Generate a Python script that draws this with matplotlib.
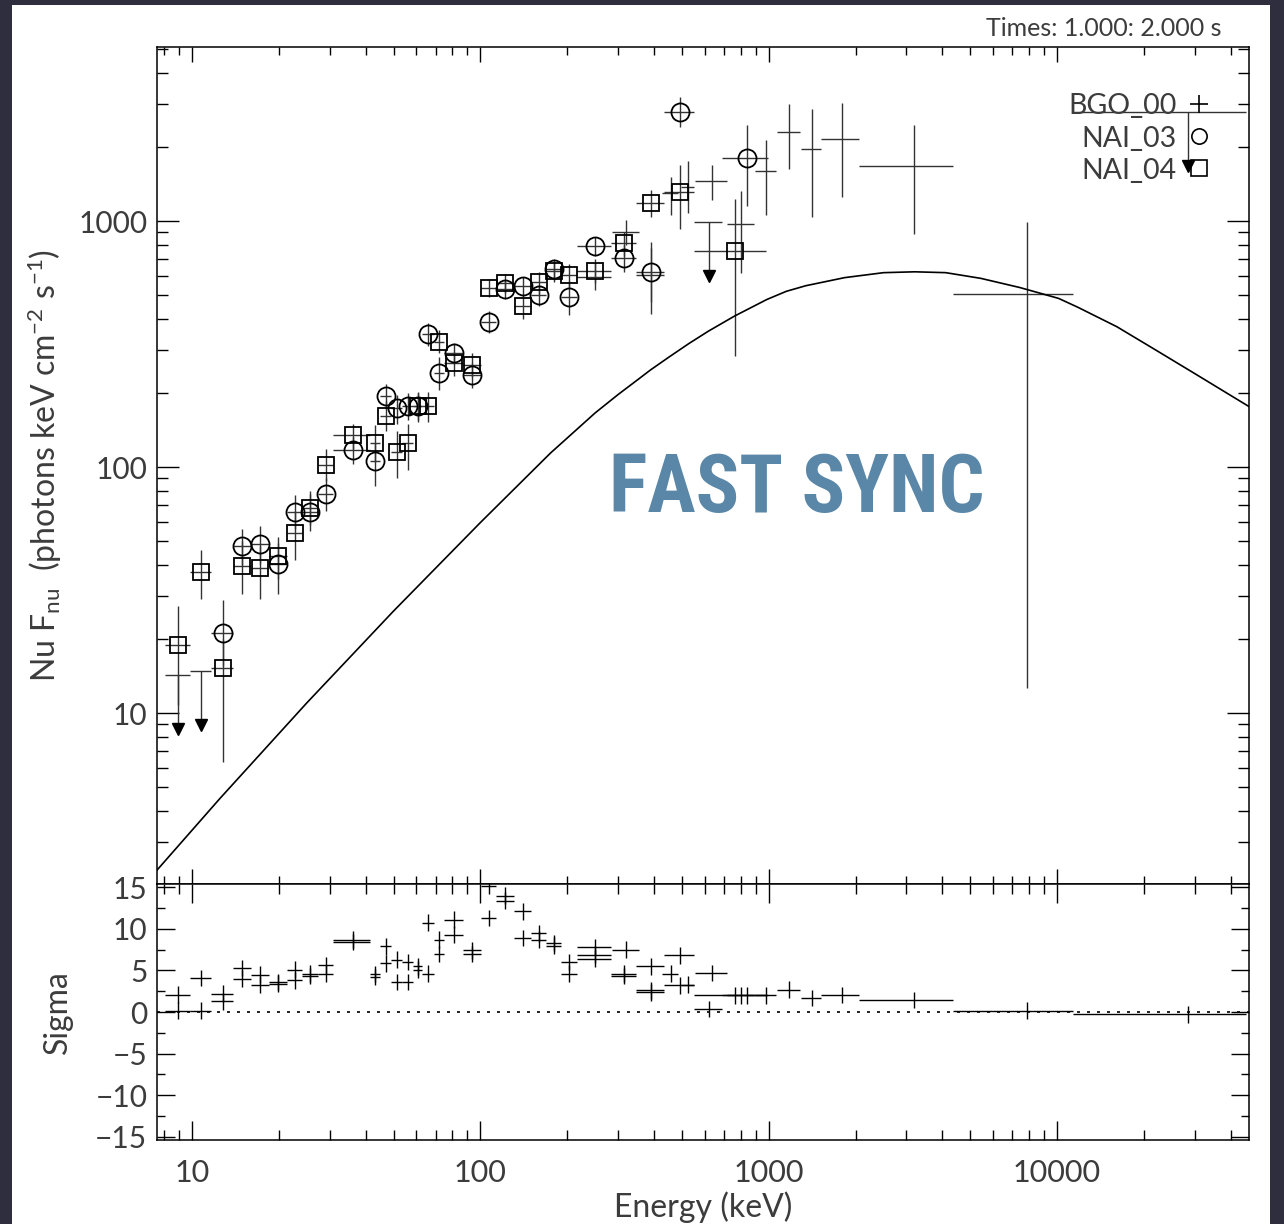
import os
import numpy as np
import matplotlib.pyplot as plt
from matplotlib import font_manager as fm
from matplotlib.patches import Rectangle
from matplotlib.ticker import LogLocator, NullFormatter, MultipleLocator

plt.rcParams['font.family'] = ['Lato', 'DejaVu Sans']
plt.rcParams['mathtext.default'] = 'regular'
plt.rcParams['text.color'] = '#3c3c3c'
plt.rcParams['axes.labelcolor'] = '#3c3c3c'
plt.rcParams['xtick.color'] = 'black'
plt.rcParams['ytick.color'] = 'black'
plt.rcParams['xtick.labelcolor'] = '#3c3c3c'
plt.rcParams['ytick.labelcolor'] = '#3c3c3c'

# NAI_04 (squares): bin edges (keV), flux, flux error range, residual (sigma)
n4_elo = [8.06, 9.84, 11.64, 13.88, 16.02, 18.50, 21.36, 24.07, 27.35, 30.84,
          41.44, 44.88, 49.01, 53.49, 58.42, 62.79, 69.09, 74.83, 87.10, 100.6,
          113.4, 130.9, 149.9, 169.0, 190.5, 216.4, 284.0, 346.8, 433.8, 551.1]
n4_ehi = [9.84, 11.64, 13.88, 16.02, 18.50, 21.36, 24.07, 27.35, 30.84, 41.44,
          44.88, 49.01, 53.49, 58.42, 62.79, 69.09, 74.83, 87.10, 100.6, 113.4,
          130.9, 149.9, 169.0, 190.5, 216.4, 284.0, 346.8, 433.8, 551.1, 977.0]
n4_flux = [19.0, 37.5, 15.3, 39.7, 39.0, 43.5, 54.1, 67.9, 101.9, 134.9,
           125.6, 161.2, 115.4, 124.8, 177, 177, 323, 264, 260, 536,
           558, 452, 563, 628, 603, 628, 812, 1187, 1312, 757]
n4_flo = [10.8, 29.1, 6.3, 30.5, 29, 35, 42, 58, 88, 118,
          105, 140, 90, 97, 152, 152, 290, 235, 232, 490,
          510, 400, 505, 565, 535, 560, 720, 1040, 929, 283]
n4_fhi = [27.2, 46.0, 20.0, 50, 48, 52, 66, 78, 118, 150,
          148, 185, 140, 150, 202, 202, 360, 295, 290, 580,
          610, 505, 620, 690, 670, 700, 905, 1340, 1688, 1229]
n4_sigma = [2.1, 4.1, 1.3, 4.0, 3.3, 3.6, 3.8, 4.6, 5.6, 8.7,
            4.55, 5.85, 3.6, 3.6, 5.1, 4.6, 8.7, 9.3, 7.4, 15.2,
            14.0, 8.9, 9.45, 8.3, 6.0, 6.4, 4.6, 5.5, 3.2, 2.0]

# NAI_03 (circles)
n3_elo = [11.64, 13.88, 16.02, 18.50, 21.36, 24.07, 27.35, 30.84, 41.44, 44.88,
          49.01, 53.49, 58.42, 62.79, 69.09, 74.83, 87.10, 100.6, 113.4, 130.9,
          149.9, 169.0, 190.5, 216.4, 284.0, 346.8, 433.8, 688.0]
n3_ehi = [13.88, 16.02, 18.50, 21.36, 24.07, 27.35, 30.84, 41.44, 44.88, 49.01,
          53.49, 58.42, 62.79, 69.09, 74.83, 87.10, 100.6, 113.4, 130.9, 149.9,
          169.0, 190.5, 216.4, 284.0, 346.8, 433.8, 551.1, 998.0]
n3_flux = [21.2, 47.9, 48.6, 40.2, 65.8, 65.8, 77.5, 117.3, 105.8, 194.3,
           173.2, 177, 177, 346, 241.6, 290, 236.6, 389.6, 527.7, 544,
           500, 636, 492, 791, 709, 622, 2783, 1798]
n3_flo = [15.5, 40, 40.5, 30.5, 56, 55, 66, 103, 84, 172,
          150, 155, 155, 310, 205, 262, 210, 350, 480, 495,
          450, 575, 415, 720, 620, 420, 2404, 1150]
n3_fhi = [28.8, 56.2, 57.8, 49, 77, 80, 90, 132, 125, 218,
          196, 200, 200, 385, 280, 320, 265, 430, 575, 595,
          550, 700, 570, 865, 800, 820, 3192, 2455]
n3_sigma = [2.2, 5.3, 4.5, 3.4, 5.1, 4.35, 4.6, 8.4, 4.2, 7.9,
            6.3, 6.0, 5.5, 10.75, 7.0, 11.1, 7.0, 11.3, 13.4, 12.1,
            8.7, 8.0, 4.6, 7.8, 4.35, 2.6, 6.8, 2.0]

# NAI_03 upper limits
n3_ul_elo = [8.06, 9.84, 551.1]
n3_ul_ehi = [9.84, 11.64, 688.0]
n3_ul_flux = [14.3, 14.8, 994]
n3_ul_sigma = [0.15, 0.15, 0.35]

# BGO_00 (plain crosses)
bgo_elo = [216.4, 286.3, 346.8, 427.5, 497.6, 555.5, 717.4, 897.4, 1069, 1295, 1520, 2060, 4360]
bgo_ehi = [284.0, 355.5, 433.8, 486.2, 551.1, 717.4, 890.2, 1060, 1285, 1520, 2060, 4340, 11400]
bgo_flux = [594, 905, 603, 1299, 1375, 1458, 972, 1601, 2307, 1957, 2148, 1673, 505]
bgo_flo = [524, 800, 470, 1056, 1080, 1218, 617, 1058, 1622, 1041, 1248, 883, 12.7]
bgo_fhi = [684, 1010, 775, 1509, 1750, 1688, 1328, 2134, 2990, 2852, 3030, 2455, 991]
bgo_sigma = [6.9, 7.5, 2.35, 4.6, 3.3, 4.7, 2.0, 2.0, 2.7, 1.7, 2.05, 1.45, 0.15]

# BGO_00 upper limit
bgo_ul_elo = [11400]
bgo_ul_ehi = [45300]
bgo_ul_flux = [2774]
bgo_ul_sigma = [-0.3]

# model curve
model_e = [7.56, 12.5, 25, 50, 100, 175, 250, 300, 352, 388.6, 452.8, 529, 618, 761,
           985, 1150, 1344, 1834, 2502, 3207, 4111, 5438, 7420, 10120, 11820, 16120,
           22000, 30010, 46380]
model_f = [2.3, 4.5, 11.0, 26.0, 59.5, 114, 166, 197, 227, 248, 281, 318, 357, 411,
           480, 518, 546, 589, 617, 622, 617, 585, 537, 485, 446, 372,
           299, 240, 176]

x_ticks = [10, 100, 1000, 10000]
x_ticklabels = ['10', '100', '1000', '10000']
y_ticks = [10, 100, 1000]
y_ticklabels = ['10', '100', '1000']
s_ticks = [15, 10, 5, 0, -5, -10, -15]
s_ticklabels = ['15', '10', '5', '0', '\u22125', '\u221210', '\u221215']


def centres(lo, hi):
    lo = np.asarray(lo, float)
    hi = np.asarray(hi, float)
    c = 0.5 * (lo + hi)
    return c, [c - lo, hi - c]


def condensed_bold():
    # look for a narrow bold face for the big label
    cands = [('Roboto Condensed', 'normal'), ('Liberation Sans Narrow', 'normal'),
             ('Open Sans Condensed', 'normal'), ('Open Sans', 'condensed'),
             ('Noto Sans', 'condensed'), ('DejaVu Sans', 'condensed'),
             ('Roboto', 'condensed')]
    for fam, st in cands:
        try:
            path = fm.findfont(fm.FontProperties(family=fam, weight='bold', stretch=st),
                               fallback_to_default=False)
        except Exception:
            continue
        name = os.path.basename(path).lower()
        if 'cond' in name or 'narrow' in name:
            return path
    return None


W, H = 1284, 1224
fig = plt.figure(figsize=(W / 100, H / 100), dpi=100, facecolor='#2e2e3f')
fig.add_artist(Rectangle((12 / W, 0), (1270 - 12) / W, (H - 5) / H,
                         transform=fig.transFigure, facecolor='white',
                         edgecolor='none', zorder=-10))

ax1 = fig.add_axes([157 / W, (H - 884) / H, 1092 / W, 837 / H])
ax2 = fig.add_axes([157 / W, (H - 1140) / H, 1092 / W, 256 / H], sharex=ax1)

ecol = '0.2'
elw = 1.0

# ---- top panel ----
c, xe = centres(n4_elo, n4_ehi)
f = np.asarray(n4_flux)
ax1.errorbar(c, f, xerr=xe, yerr=[f - np.asarray(n4_flo), np.asarray(n4_fhi) - f],
             fmt='none', ecolor=ecol, elinewidth=elw)
ax1.plot(c, f, ls='none', marker='s', ms=12, mfc='none', mec='black', mew=1.3, zorder=4)

c, xe = centres(n3_elo, n3_ehi)
f = np.asarray(n3_flux)
ax1.errorbar(c, f, xerr=xe, yerr=[f - np.asarray(n3_flo), np.asarray(n3_fhi) - f],
             fmt='none', ecolor=ecol, elinewidth=elw)
ax1.plot(c, f, ls='none', marker='o', ms=13, mfc='none', mec='black', mew=1.3, zorder=4)

c, xe = centres(bgo_elo, bgo_ehi)
f = np.asarray(bgo_flux)
ax1.errorbar(c, f, xerr=xe, yerr=[f - np.asarray(bgo_flo), np.asarray(bgo_fhi) - f],
             fmt='none', ecolor=ecol, elinewidth=elw)

# upper limits: bar over the bin plus a down arrow
for lo, hi, fl in [(n3_ul_elo, n3_ul_ehi, n3_ul_flux), (bgo_ul_elo, bgo_ul_ehi, bgo_ul_flux)]:
    c, xe = centres(lo, hi)
    fl = np.asarray(fl, float)
    ax1.errorbar(c, fl, xerr=xe, fmt='none', ecolor=ecol, elinewidth=elw)
    ax1.vlines(c, fl * 10 ** -0.22, fl, color=ecol, lw=elw)
    ax1.plot(c, fl * 10 ** -0.22, ls='none', marker='v', ms=9, color='black')

ax1.plot(model_e, model_f, color='black', lw=1.2)

ax1.set_xscale('log')
ax1.set_yscale('log')
ax1.set_xlim(7.56, 46300)
ax1.set_ylim(2.02, 5100)
ax1.set_yticks(y_ticks)
ax1.set_yticklabels(y_ticklabels)
ax1.yaxis.set_minor_locator(LogLocator(base=10, subs=np.arange(2, 10), numticks=20))
ax1.yaxis.set_minor_formatter(NullFormatter())
ax1.xaxis.set_minor_locator(LogLocator(base=10, subs=np.arange(2, 10), numticks=20))
ax1.tick_params(which='both', direction='in', top=True, right=True, labelbottom=False)
ax1.tick_params(axis='y', which='major', length=16, width=1.0, labelsize=21.5, pad=7)
ax1.tick_params(axis='y', which='minor', length=8, width=1.0)
ax1.tick_params(axis='x', which='major', length=11, width=1.0)
ax1.tick_params(axis='x', which='minor', length=6, width=1.0)
ax1.set_ylabel('Nu F$_{nu}$  (photons keV cm$^{-2}$ s$^{-1}$)', fontsize=23)
ax1.yaxis.set_label_coords(-0.085, 0.5)

big = ax1.text(0.586, 0.471, 'FAST SYNC', transform=ax1.transAxes, ha='center',
               va='center', color='#5a87a7')
path = condensed_bold()
if path:
    big.set_fontproperties(fm.FontProperties(fname=path, size=60))
else:
    big.set_fontproperties(fm.FontProperties(family='DejaVu Sans', weight='bold', size=60))
# fit the label to its width on the reference
rend = fig.canvas.get_renderer()
wpx = big.get_window_extent(rend).width
big.set_fontsize(60 * 376.0 / wpx)

# legend (labels on the left of the symbols)
leg_labels = ['BGO_00', 'NAI_03', 'NAI_04']
leg_marks = ['+', 'o', 's']
for yy, lab, mk in zip([0.929, 0.8905, 0.852], leg_labels, leg_marks):
    ax1.text(0.934, yy, lab, transform=ax1.transAxes, ha='right', va='center', fontsize=20.5)
    ax1.plot([0.954], [yy + 0.003], transform=ax1.transAxes, ls='none', marker=mk,
             ms=13 if mk == '+' else 11, mfc='none', mec='black', mew=1.2)

for sp in ax1.spines.values():
    sp.set_linewidth(1.1)

# ---- residual panel ----
for lo, hi, sg in [(n4_elo, n4_ehi, n4_sigma), (n3_elo, n3_ehi, n3_sigma),
                   (n3_ul_elo, n3_ul_ehi, n3_ul_sigma), (bgo_elo, bgo_ehi, bgo_sigma),
                   (bgo_ul_elo, bgo_ul_ehi, bgo_ul_sigma)]:
    c, xe = centres(lo, hi)
    ax2.errorbar(c, sg, xerr=xe, yerr=1.0, fmt='none', ecolor='black', elinewidth=1.0)

ax2.axhline(0, color='black', lw=1.2, ls=(0, (1.8, 4.2)))
ax2.set_ylim(-15.4, 15.4)
ax2.set_yticks(s_ticks)
ax2.set_yticklabels(s_ticklabels)
ax2.yaxis.set_minor_locator(MultipleLocator(2.5))
ax2.set_xticks(x_ticks)
ax2.set_xticklabels(x_ticklabels)
ax2.xaxis.set_minor_locator(LogLocator(base=10, subs=np.arange(2, 10), numticks=20))
ax2.xaxis.set_minor_formatter(NullFormatter())
ax2.tick_params(which='both', direction='in', top=True, right=True)
ax2.tick_params(axis='y', which='major', length=13, width=1.0, labelsize=21.5, pad=7)
ax2.tick_params(axis='y', which='minor', length=6, width=1.0)
ax2.tick_params(axis='x', which='major', length=14, width=1.0, labelsize=22, pad=14)
ax2.tick_params(axis='x', which='minor', length=7, width=1.0)
ax2.set_ylabel('Sigma', fontsize=23)
ax2.yaxis.set_label_coords(-0.077, 0.5)
ax2.set_xlabel('Energy (keV)', fontsize=23)
ax2.xaxis.set_label_coords(0.5, -0.2)
for sp in ax2.spines.values():
    sp.set_linewidth(1.1)

fig.text(1222 / W, 1 - 28 / H, 'Times: 1.000: 2.000 s', ha='right', va='center', fontsize=18)

fig.savefig('out.png', dpi=100, facecolor=fig.get_facecolor())
